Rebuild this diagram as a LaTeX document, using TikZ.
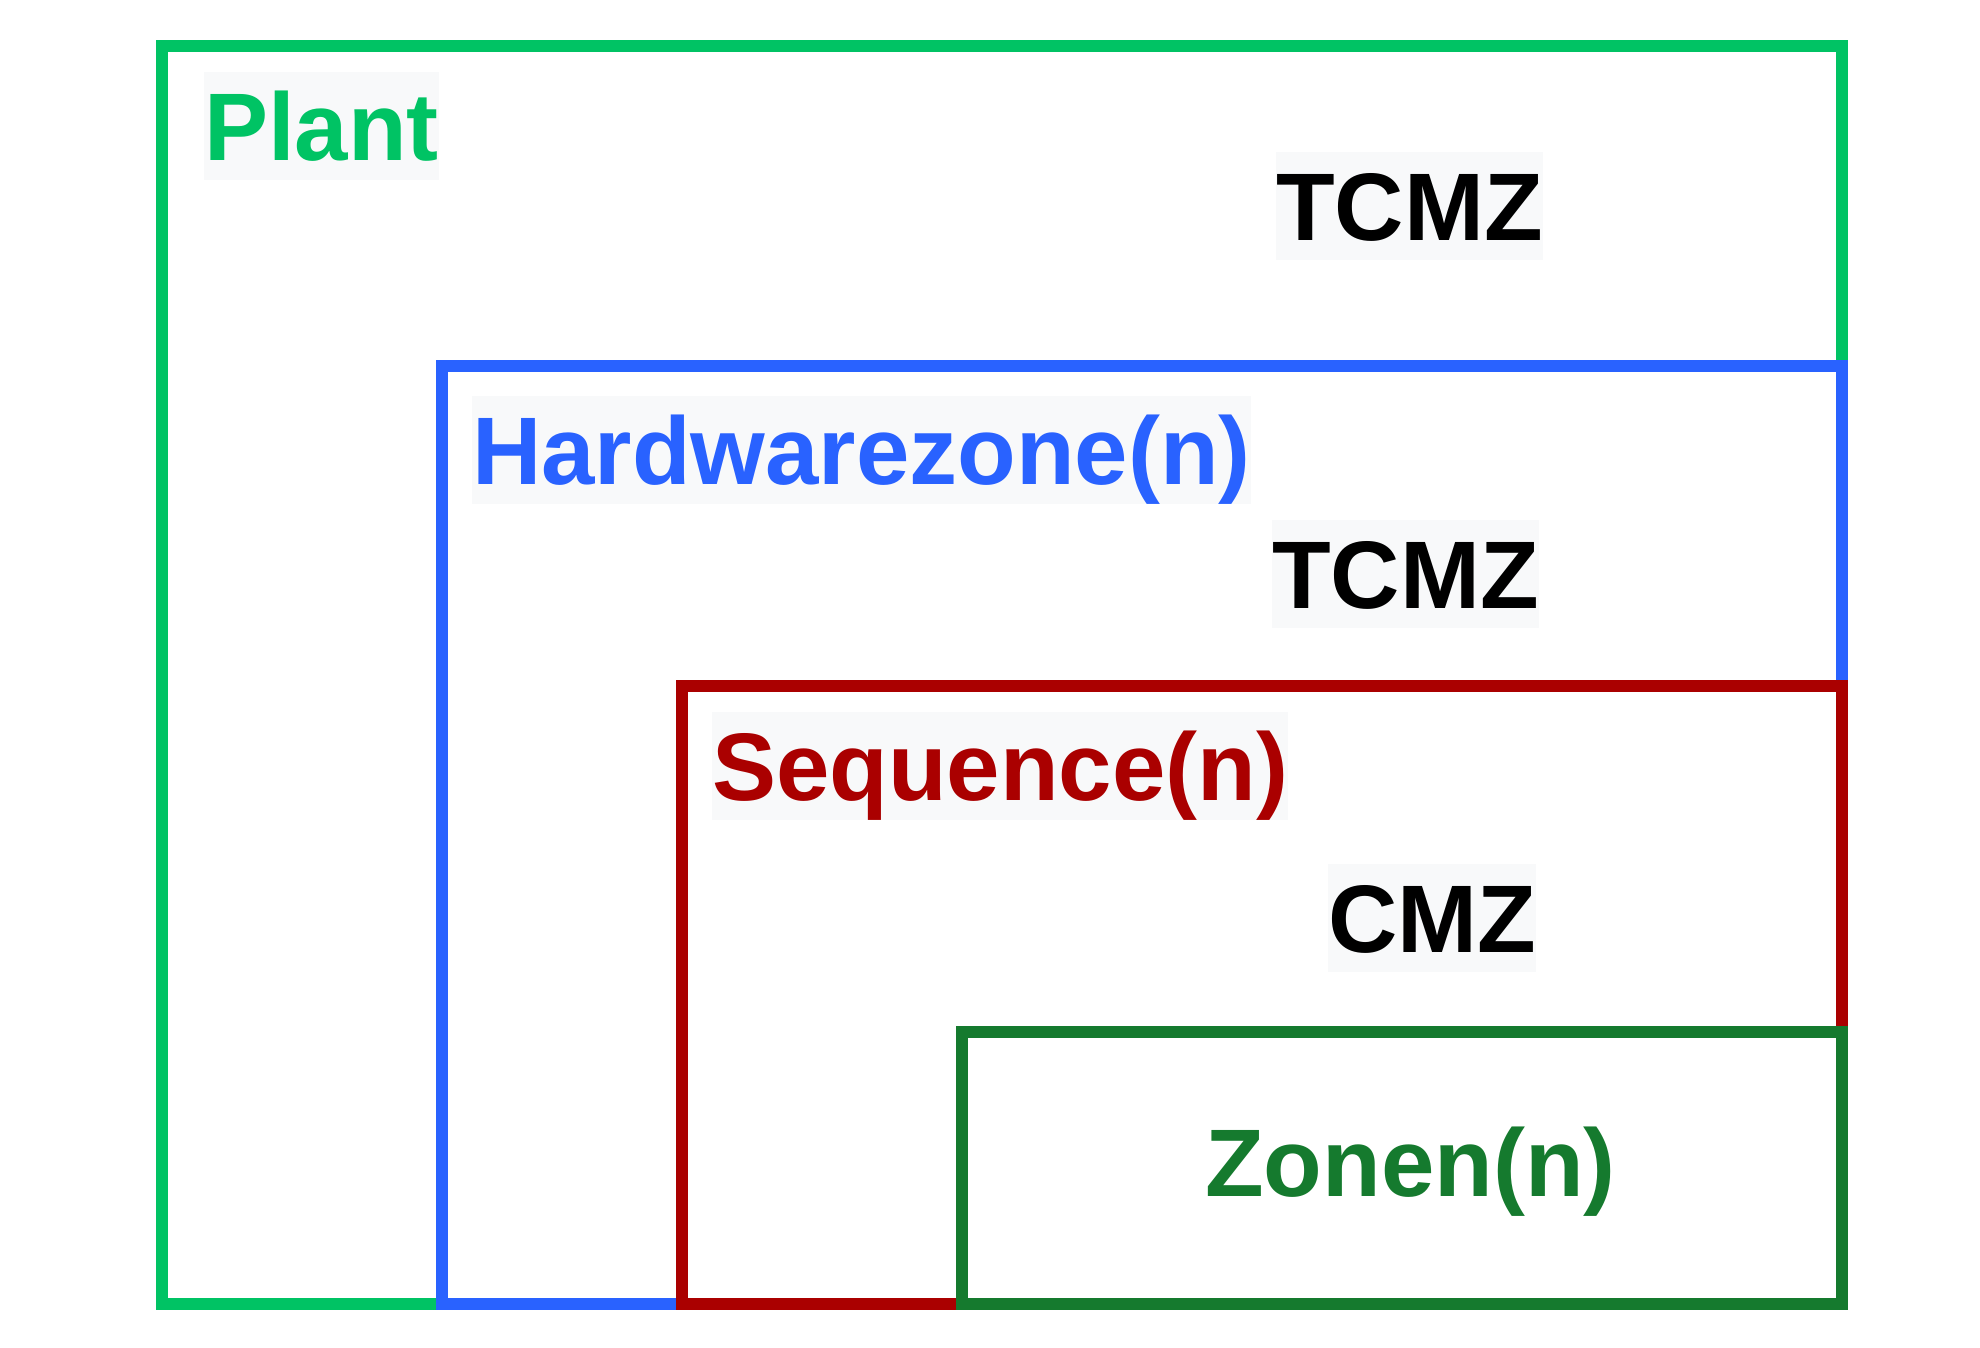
\documentclass[tikz,border=0pt]{standalone}
\usepackage{fontspec}
\setmainfont{Liberation Sans}
\definecolor{plantgreen}{RGB}{0,195,100}
\definecolor{hwblue}{RGB}{41,98,255}
\definecolor{seqred}{RGB}{170,0,0}
\definecolor{zonegreen}{RGB}{21,122,46}
\definecolor{labelbg}{RGB}{248,249,250}
\tikzset{
  frame/.style={line width=12pt, line join=miter},
  lbl/.style={anchor=north west, inner sep=0pt, text height=88pt, text depth=20pt,
    font=\fontsize{96}{110}\selectfont\bfseries},
  lblbg/.style={lbl, fill=labelbg},
}
\begin{document}
\begin{tikzpicture}[x=1pt,y=-1pt]
\useasboundingbox (0,0) rectangle (1980,1348);
\fill[white] (0,0) rectangle (1980,1348);
% frames
\draw[frame, plantgreen] (162,46) rectangle (1842,1304);
\draw[frame, hwblue] (442,366) rectangle (1842,1304);
\draw[frame, seqred] (682,686) rectangle (1842,1304);
\draw[frame, zonegreen] (962,1032) rectangle (1842,1304);
% labels
\node[lblbg, text=plantgreen] (plant) at (204,72) {Plant};
\node[lblbg, text=black] (tcmz1) at (1276,152) {TCMZ};
\node[lblbg, text=hwblue] (hw) at (472,396) {Hardwarezone(n)};
\node[lblbg, text=black] (tcmz2) at (1272,520) {TCMZ};
\node[lblbg, text=seqred] (seq) at (712,712) {Sequence(n)};
\node[lblbg, text=black] (cmz) at (1328,864) {CMZ};
\node[lbl, text=zonegreen] (zonen) at (1205,1108) {Zonen(n)};
\end{tikzpicture}
\end{document}
